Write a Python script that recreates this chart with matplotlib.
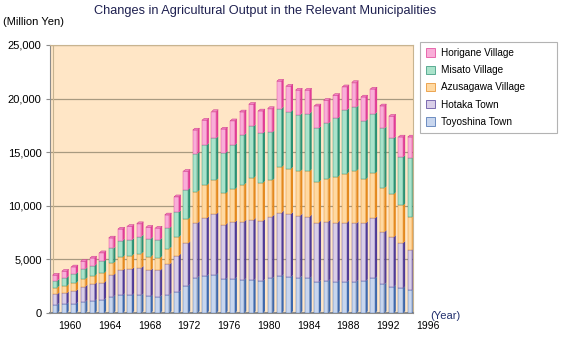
import numpy as np
import matplotlib.pyplot as plt
from matplotlib.patches import Polygon, Patch

plt.rcParams['font.family'] = ['Liberation Sans', 'DejaVu Sans']

# agricultural output per bar (million yen), oldest first
toyoshina = [770, 830, 860, 1040, 1140, 1230, 1510, 1660, 1660, 1660, 1540, 1510, 1690,
             1970, 2530, 3300, 3450, 3540, 3140, 3200, 3080, 3050, 2990, 3230, 3450, 3360,
             3300, 3230, 2900, 2990, 2930, 2900, 2930, 2990, 3230, 2680, 2460, 2310, 2130]
hotaka = [980, 1010, 1200, 1420, 1560, 1600, 2020, 2330, 2430, 2550, 2460, 2460, 2840,
          3390, 3970, 5080, 5390, 5670, 5090, 5270, 5450, 5640, 5610, 5770, 5920, 5880,
          5790, 5770, 5540, 5540, 5510, 5540, 5420, 5390, 5610, 4870, 4630, 4220, 3780]
azusagawa = [620, 680, 740, 700, 770, 890, 1110, 1230, 1260, 1320, 1250, 1170, 1480,
             1730, 2250, 2930, 3080, 3170, 2920, 3080, 3450, 3910, 3540, 3380, 4250, 4220,
             4130, 4250, 3790, 3950, 4250, 4560, 4900, 4100, 4190, 4100, 4000, 3510, 3020]
misato = [640, 770, 860, 930, 950, 1100, 1380, 1540, 1470, 1600, 1670, 1700, 1910,
          2310, 2770, 3540, 3760, 3920, 3790, 4130, 4620, 4810, 4620, 4470, 5450, 5330,
          5260, 5360, 5020, 5200, 5460, 5950, 5940, 5450, 5550, 5570, 5210, 4500, 5550]
horigane = [520, 610, 640, 730, 710, 800, 980, 1070, 1260, 1200, 1080, 1080, 1230,
            1440, 1700, 2220, 2310, 2490, 2220, 2250, 2160, 2060, 2090, 2220, 2560, 2370,
            2310, 2180, 2070, 2160, 2150, 2150, 2310, 2220, 2310, 2100, 2060, 1880, 1940]

series_names = ['Toyoshina Town', 'Hotaka Town', 'Azusagawa Village', 'Misato Village', 'Horigane Village']
tick_years = [1960, 1964, 1968, 1972, 1976, 1980, 1984, 1988, 1992, 1996]
y_ticks = [0, 5000, 10000, 15000, 20000, 25000]

series = [toyoshina, hotaka, azusagawa, misato, horigane]
fronts = ['#C8D6EE', '#D9CEE8', '#FFD9A2', '#AAE3CB', '#F9AED8']
sides = ['#3E68AC', '#4F3B96', '#E4891E', '#2B9173', '#E03D96']

fig = plt.figure(figsize=(5.68, 3.5), dpi=100)
ax = fig.add_axes([50 / 568, 1 - 313 / 350, 363 / 568, 268 / 350])
ax.set_facecolor('#FFE6C6')

w = 0.5       # front face width
dx = 0.22     # depth of the fake 3d side
dy = 170

x = np.arange(len(toyoshina)) - dx / 2
bottom = np.zeros(len(x))
for vals, front, side in zip(series, fronts, sides):
    vals = np.array(vals, dtype=float)
    ax.bar(x, vals, bottom=bottom, width=w, color=front, edgecolor=side, linewidth=0.3, zorder=3)
    for xi, b, v in zip(x, bottom, vals):
        r = xi + w / 2
        ax.add_patch(Polygon([(r, b), (r + dx, b + dy), (r + dx, b + v + dy), (r, b + v)],
                             closed=True, facecolor=side, edgecolor='none', zorder=3))
    bottom += vals

# caps on top of each column
for xi, top in zip(x, bottom):
    l, r = xi - w / 2, xi + w / 2
    ax.add_patch(Polygon([(l, top), (l + dx, top + dy), (r + dx, top + dy), (r, top)],
                         closed=True, facecolor='#F383C3', edgecolor='#C8307F', linewidth=0.3, zorder=4))

ax.set_yticks(y_ticks)
ax.set_yticklabels(['{:,}'.format(v) for v in y_ticks], fontsize=8)
ax.yaxis.grid(True, color='#A89A80', linewidth=0.9, zorder=1)
ax.set_axisbelow(True)
ax.set_xticks([])
ax.set_xlim(-0.64, 38.2)
ax.set_ylim(0, 25000)
# thin back edge of the left wall
ax.axvline(-0.34, color='#C8B490', linewidth=0.8, zorder=2)

# year labels do not sit on the columns in the original, spread them as drawn
for yr in tick_years:
    pos = 1.5 + (yr - 1960) * 38.3 / 36
    ax.text(pos, -0.048, str(yr), transform=ax.get_xaxis_transform(), ha='center', va='center',
            fontsize=7.5, clip_on=False)

ax.tick_params(axis='y', length=3, color='#8C8C8C', pad=3)
for s in ['top', 'right']:
    ax.spines[s].set_color('#C8B490')
    ax.spines[s].set_linewidth(0.8)
ax.spines['left'].set_color('#8C8C8C')
ax.spines['bottom'].set_color('#8C8C8C')
ax.spines['bottom'].set_linewidth(1.5)

fig.text(0.466, 1 - 11 / 350, 'Changes in Agricultural Output in the Relevant Municipalities',
         ha='center', va='center', fontsize=9.2, color='#1E2050')
fig.text(3 / 568, 1 - 22 / 350, '(Million Yen)', ha='left', va='center', fontsize=8)
fig.text(430 / 568, 1 - 316 / 350, '(Year)', ha='left', va='center', fontsize=8, color='#22306E')

handles = [Patch(facecolor=f, edgecolor=s, linewidth=0.5) for f, s in zip(fronts, sides)]
leg = fig.legend(handles[::-1], series_names[::-1], loc='upper left', mode='expand',
                 bbox_to_anchor=(420 / 568, 1 - 133 / 350, 137 / 568, 91 / 350), borderaxespad=0,
                 fontsize=7.2, frameon=True, fancybox=False, edgecolor='#A0A0A0', labelspacing=0.72,
                 handlelength=0.9, handleheight=0.9, handletextpad=0.6, borderpad=0.6)
leg.get_frame().set_linewidth(0.8)

fig.savefig('out.png', dpi=100)
